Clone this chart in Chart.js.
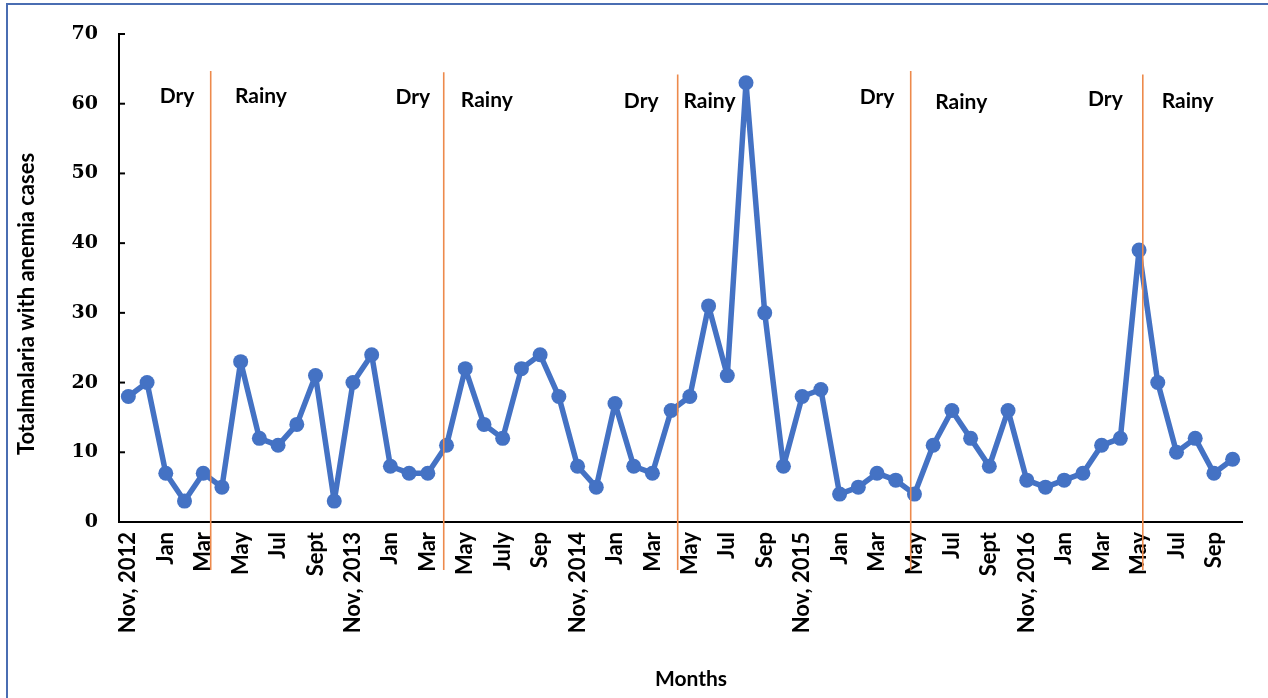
<!DOCTYPE html>
<html>
<head>
<meta charset="utf-8">
<script src="https://cdn.jsdelivr.net/npm/chart.js@4.4.1/dist/chart.umd.min.js"></script>
<style>
  html, body { margin: 0; padding: 0; background: #fff; }
  #wrap { position: relative; width: 1268px; height: 698px; }
  #frame {
    position: absolute; left: 6px; top: 3px; right: -10px; bottom: -10px;
    border-left: 2px solid #4a6db2; border-top: 2px solid #4a6db2;
    pointer-events: none;
  }
</style>
</head>
<body>
<div id="wrap">
  <canvas id="anemiaChart"></canvas>
  <div id="frame"></div>
</div>
<script>
// monthly cases, Nov 2012 - Oct 2017
const months = [
  'Nov, 2012', '', 'Jan', '', 'Mar', '', 'May', '', 'Jul', '', 'Sept', '',
  'Nov, 2013', '', 'Jan', '', 'Mar', '', 'May', '', 'July', '', 'Sep', '',
  'Nov, 2014', '', 'Jan', '', 'Mar', '', 'May', '', 'Jul', '', 'Sep', '',
  'Nov, 2015', '', 'Jan', '', 'Mar', '', 'May', '', 'Jul', '', 'Sept', '',
  'Nov, 2016', '', 'Jan', '', 'Mar', '', 'May', '', 'Jul', '', 'Sep', ''
];
const cases = [
  18, 20, 7, 3, 7, 5, 23, 12, 11, 14, 21, 3,
  20, 24, 8, 7, 7, 11, 22, 14, 12, 22, 24, 18,
  8, 5, 17, 8, 7, 16, 18, 31, 21, 63, 30, 8,
  18, 19, 4, 5, 7, 6, 4, 11, 16, 12, 8, 16,
  6, 5, 6, 7, 11, 12, 39, 20, 10, 12, 7, 9
];
const yTicks = [0, 10, 20, 30, 40, 50, 60, 70];

// season boundaries (category index) and their top (y value)
const boundaryAt = [4.4, 16.85, 29.35, 41.8, 54.2];
const boundaryTop = [64.7, 64.5, 64.2, 64.7, 64.2];
// season notes: text, category index, y value
const seasonText = ['Dry', 'Rainy', 'Dry', 'Rainy', 'Dry', 'Rainy', 'Dry', 'Rainy', 'Dry', 'Rainy'];
const seasonAt = [2.6, 7.08, 15.2, 19.15, 27.4, 31.05, 40.0, 44.5, 52.2, 56.6];
const seasonY = [61.1, 61.1, 61.0, 60.5, 60.3, 60.3, 60.9, 60.2, 60.6, 60.3];

const sans = 'Lato, "Open Sans", sans-serif';

const extras = {
  id: 'extras',
  afterDatasetsDraw(chart) {
    const ctx = chart.ctx;
    const x = chart.scales.x, y = chart.scales.y;
    const area = chart.chartArea;
    ctx.save();
    // seasonal boundaries
    ctx.strokeStyle = '#ed8a4c';
    ctx.lineWidth = 1.6;
    boundaryAt.forEach((b, i) => {
      const px = x.getPixelForValue(b);
      ctx.beginPath();
      ctx.moveTo(px, y.getPixelForValue(boundaryTop[i]));
      ctx.lineTo(px, area.bottom + 48);
      ctx.stroke();
    });
    // season labels
    ctx.fillStyle = '#000';
    ctx.font = 'bold 21px ' + sans;
    ctx.textAlign = 'center';
    ctx.textBaseline = 'middle';
    seasonText.forEach((t, i) => {
      ctx.fillText(t, x.getPixelForValue(seasonAt[i]), y.getPixelForValue(seasonY[i]));
    });
    // inner tick marks on y axis
    ctx.strokeStyle = '#000';
    ctx.lineWidth = 2;
    y.ticks.forEach(t => {
      const py = y.getPixelForValue(t.value);
      ctx.beginPath();
      ctx.moveTo(area.left, py);
      ctx.lineTo(area.left + 6, py);
      ctx.stroke();
    });
    // axis titles
    ctx.font = 'bold 21px ' + sans;
    ctx.fillText('Months', 691, 679);
    ctx.font = 'bold 22px ' + sans;
    ctx.translate(27, 304);
    ctx.rotate(-Math.PI / 2);
    ctx.fillText('Totalmalaria with anemia cases', 0, 0);
    ctx.restore();
  }
};

document.addEventListener("DOMContentLoaded", function () {
  const ctx = document.getElementById("anemiaChart").getContext("2d");
  new Chart(ctx, {
    type: 'line',
    data: {
      labels: months,
      datasets: [{
        data: cases,
        borderColor: '#4472c4',
        backgroundColor: '#4472c4',
        borderWidth: 5.5,
        borderJoinStyle: 'round',
        borderCapStyle: 'round',
        pointRadius: 7.5,
        pointHoverRadius: 7.5,
        pointBorderWidth: 0,
        tension: 0
      }]
    },
    options: {
      responsive: true,
      maintainAspectRatio: false,
      animation: false,
      layout: { padding: { top: 34, right: 26, left: 0, bottom: 0 } },
      plugins: {
        legend: { display: false },
        tooltip: { enabled: false }
      },
      scales: {
        x: {
          offset: true,
          grid: { display: false, offset: true },
          border: { display: true, color: '#000', width: 2 },
          ticks: {
            autoSkip: false,
            minRotation: 90,
            maxRotation: 90,
            padding: 2,
            color: '#000',
            font: { family: sans, size: 22, weight: 'bold' }
          },
          afterFit: s => { s.height = 176; }
        },
        y: {
          min: 0,
          max: 70,
          grid: { display: false },
          border: { display: true, color: '#000', width: 2 },
          afterBuildTicks: s => { s.ticks = yTicks.map(v => ({ value: v })); },
          ticks: {
            padding: 13,
            color: '#000',
            font: { family: '"DejaVu Serif", serif', size: 19, weight: 'bold' }
          },
          afterFit: s => { s.width = 119; }
        }
      }
    },
    plugins: [extras]
  });
});
</script>
</body>
</html>
